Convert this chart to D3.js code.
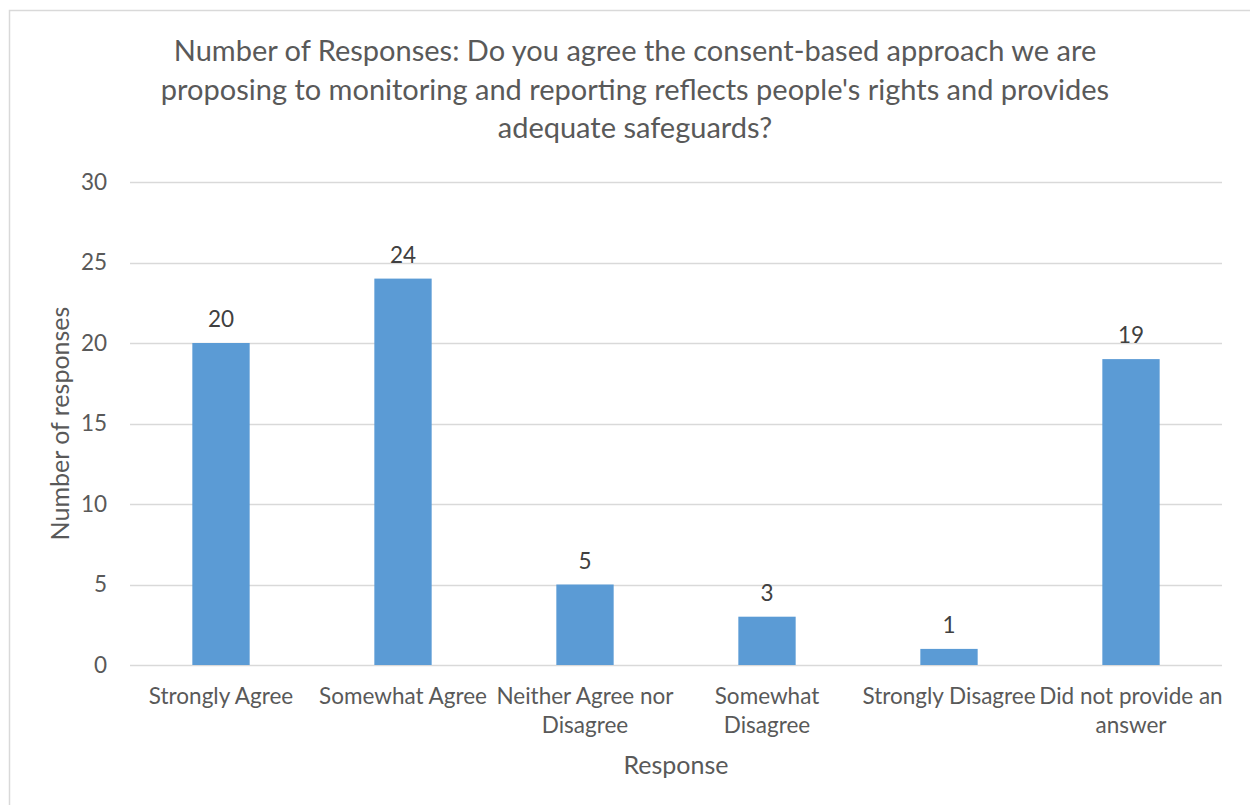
<!DOCTYPE html>
<html>
<head>
<meta charset="utf-8">
<script src="https://cdn.jsdelivr.net/npm/d3@7"></script>
<style>
  html, body { margin: 0; padding: 0; background: #fff; }
  svg { display: block; }
  text { font-family: Lato, "Open Sans", sans-serif; }
</style>
</head>
<body>
<svg id="chart" width="1250" height="805"></svg>
<script>
// Survey responses
const categories = [
  "Strongly Agree",
  "Somewhat Agree",
  "Neither Agree nor Disagree",
  "Somewhat Disagree",
  "Strongly Disagree",
  "Did not provide an answer"
];
const responseCounts = [20, 24, 5, 3, 1, 19];
const yTicks = [0, 5, 10, 15, 20, 25, 30];
const titleLines = [
  "Number of Responses: Do you agree the consent-based approach we are",
  "proposing to monitoring and reporting reflects people's rights and provides",
  "adequate safeguards?"
];
// Axis labels wrapped onto two lines where needed
const xLabelLines = [
  ["Strongly Agree"],
  ["Somewhat Agree"],
  ["Neither Agree nor", "Disagree"],
  ["Somewhat", "Disagree"],
  ["Strongly Disagree"],
  ["Did not provide an", "answer"]
];

const svg = d3.select("#chart");
const margin = { left: 130, right: 28, top: 182, bottom: 140 };
const width = 1250, height = 805;
const tickFont = "22.5px";

// Chart frame
svg.append("rect")
  .attr("x", 9.5).attr("y", 10.5)
  .attr("width", 1300).attr("height", 900)
  .attr("fill", "#fff")
  .attr("stroke", "#d9d9d9")
  .attr("stroke-width", 1.5);

const x = d3.scaleBand()
  .domain(categories)
  .range([margin.left, width - margin.right])
  .padding(0);

const y = d3.scaleLinear()
  .domain([0, 30])
  .range([height - margin.bottom, margin.top]);

const barW = x.bandwidth() * 0.315;

// Gridlines
svg.append("g")
  .selectAll("line")
  .data(yTicks)
  .join("line")
  .attr("x1", margin.left)
  .attr("x2", width - margin.right)
  .attr("y1", d => Math.round(y(d)) + 0.5)
  .attr("y2", d => Math.round(y(d)) + 0.5)
  .attr("stroke", "#d9d9d9")
  .attr("stroke-width", 1.5);

// Y axis labels
const yAxis = d3.axisLeft(y).tickValues(yTicks).tickSize(0).tickPadding(0);
const yg = svg.append("g")
  .attr("transform", `translate(${margin.left - 23},0)`)
  .call(yAxis);
yg.select(".domain").remove();
yg.selectAll("text")
  .attr("fill", "#595959")
  .style("font-size", tickFont)
  .style("font-family", "Lato, 'Open Sans', sans-serif");

// Bars
svg.append("g")
  .selectAll("rect")
  .data(categories)
  .join("rect")
  .attr("x", d => x(d) + (x.bandwidth() - barW) / 2)
  .attr("width", barW)
  .attr("y", (d, i) => y(responseCounts[i]))
  .attr("height", (d, i) => y(0) - y(responseCounts[i]))
  .attr("fill", "#5b9bd5");

// Value labels
svg.append("g")
  .selectAll("text")
  .data(categories)
  .join("text")
  .attr("x", d => x(d) + x.bandwidth() / 2)
  .attr("y", (d, i) => y(responseCounts[i]) - 16)
  .attr("text-anchor", "middle")
  .attr("fill", "#404040")
  .style("font-size", tickFont)
  .text((d, i) => responseCounts[i]);

// Category labels
const xl = svg.append("g")
  .selectAll("text")
  .data(categories)
  .join("text")
  .attr("x", d => x(d) + x.bandwidth() / 2)
  .attr("y", 704)
  .attr("text-anchor", "middle")
  .attr("fill", "#595959")
  .style("font-size", tickFont);
xl.selectAll("tspan")
  .data((d, i) => xLabelLines[i])
  .join("tspan")
  .attr("x", function () { return d3.select(this.parentNode).attr("x"); })
  .attr("dy", (d, j) => j === 0 ? 0 : 29)
  .text(d => d);

// Axis titles
svg.append("text")
  .attr("x", (margin.left + width - margin.right) / 2)
  .attr("y", 774)
  .attr("text-anchor", "middle")
  .attr("fill", "#595959")
  .style("font-size", "25px")
  .text("Response");

svg.append("text")
  .attr("transform", `translate(69,${(margin.top + height - margin.bottom) / 2}) rotate(-90)`)
  .attr("text-anchor", "middle")
  .attr("fill", "#595959")
  .style("font-size", "25px")
  .text("Number of responses");

// Title
svg.append("g")
  .selectAll("text")
  .data(titleLines)
  .join("text")
  .attr("x", 635)
  .attr("y", (d, i) => 61 + i * 38.5)
  .attr("text-anchor", "middle")
  .attr("fill", "#595959")
  .style("font-size", "29px")
  .text(d => d);
</script>
</body>
</html>
